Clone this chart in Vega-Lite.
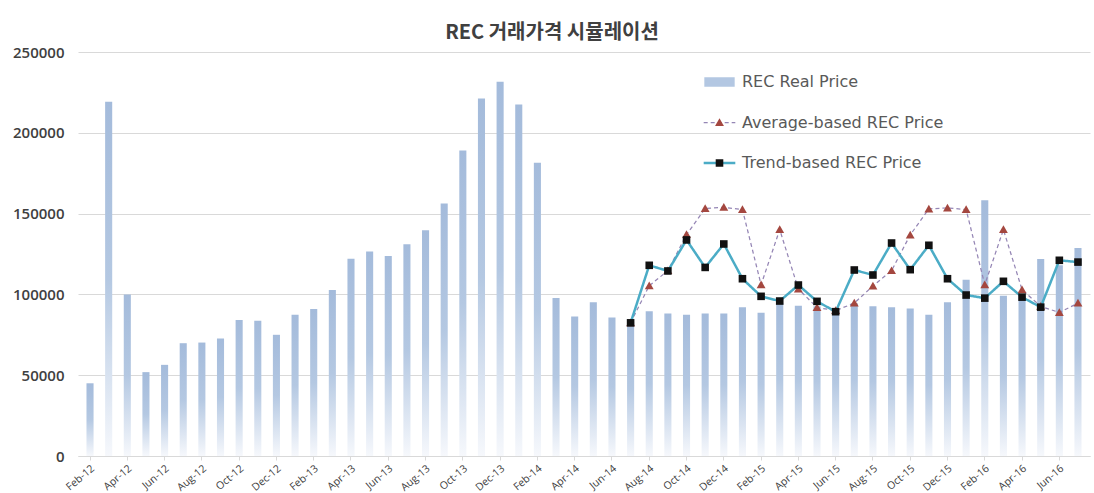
{
  "$schema": "https://vega.github.io/schema/vega-lite/v6.json",
  "autosize": {"type": "none"},
  "width": 1012,
  "height": 404,
  "padding": {"left": 78, "top": 52, "right": 4, "bottom": 37},
  "background": "white",
  "title": {
    "text": "REC 거래가격 시뮬레이션",
    "font": "Noto Sans CJK KR",
    "fontSize": 20,
    "fontWeight": "bold",
    "color": "#404040",
    "anchor": "middle",
    "frame": "group",
    "dx": -32,
    "baseline": "alphabetic",
    "offset": -14
  },
  "config": {
    "view": {"stroke": null},
    "font": "Open Sans"
  },
  "datasets": {
    "bars": [
      {"m": "Feb-12", "v": 45000}, {"m": "Mar-12", "v": 219200}, {"m": "Apr-12", "v": 100000},
      {"m": "May-12", "v": 51900}, {"m": "Jun-12", "v": 56400}, {"m": "Jul-12", "v": 69800},
      {"m": "Aug-12", "v": 70200}, {"m": "Sep-12", "v": 72700}, {"m": "Oct-12", "v": 84100},
      {"m": "Nov-12", "v": 83700}, {"m": "Dec-12", "v": 75000}, {"m": "Jan-13", "v": 87400},
      {"m": "Feb-13", "v": 90900}, {"m": "Mar-13", "v": 102700}, {"m": "Apr-13", "v": 122100},
      {"m": "May-13", "v": 126600}, {"m": "Jun-13", "v": 123800}, {"m": "Jul-13", "v": 131000},
      {"m": "Aug-13", "v": 139700}, {"m": "Sep-13", "v": 156200}, {"m": "Oct-13", "v": 189000},
      {"m": "Nov-13", "v": 221300}, {"m": "Dec-13", "v": 231600}, {"m": "Jan-14", "v": 217500},
      {"m": "Feb-14", "v": 181400}, {"m": "Mar-14", "v": 97700}, {"m": "Apr-14", "v": 86400},
      {"m": "May-14", "v": 95200}, {"m": "Jun-14", "v": 85700}, {"m": "Jul-14", "v": 83000},
      {"m": "Aug-14", "v": 89500}, {"m": "Sep-14", "v": 88200}, {"m": "Oct-14", "v": 87400},
      {"m": "Nov-14", "v": 88200}, {"m": "Dec-14", "v": 88200}, {"m": "Jan-15", "v": 92100},
      {"m": "Feb-15", "v": 88600}, {"m": "Mar-15", "v": 94600}, {"m": "Apr-15", "v": 93000},
      {"m": "May-15", "v": 92600}, {"m": "Jun-15", "v": 91000}, {"m": "Jul-15", "v": 94600},
      {"m": "Aug-15", "v": 92600}, {"m": "Sep-15", "v": 92100}, {"m": "Oct-15", "v": 91300},
      {"m": "Nov-15", "v": 87400}, {"m": "Dec-15", "v": 95200}, {"m": "Jan-16", "v": 109100},
      {"m": "Feb-16", "v": 158300}, {"m": "Mar-16", "v": 99200}, {"m": "Apr-16", "v": 99000},
      {"m": "May-16", "v": 121900}, {"m": "Jun-16", "v": 118000}, {"m": "Jul-16", "v": 128700}
    ],
    "lines": [
      {"m": "Jul-14", "s": "Average-based REC Price", "v": 82400},
      {"m": "Aug-14", "s": "Average-based REC Price", "v": 105400},
      {"m": "Sep-14", "s": "Average-based REC Price", "v": 114700},
      {"m": "Oct-14", "s": "Average-based REC Price", "v": 137000},
      {"m": "Nov-14", "s": "Average-based REC Price", "v": 153100},
      {"m": "Dec-14", "s": "Average-based REC Price", "v": 153900},
      {"m": "Jan-15", "s": "Average-based REC Price", "v": 152500},
      {"m": "Feb-15", "s": "Average-based REC Price", "v": 106000},
      {"m": "Mar-15", "s": "Average-based REC Price", "v": 140100},
      {"m": "Apr-15", "s": "Average-based REC Price", "v": 103300},
      {"m": "May-15", "s": "Average-based REC Price", "v": 91900},
      {"m": "Jun-15", "s": "Average-based REC Price", "v": 90000},
      {"m": "Jul-15", "s": "Average-based REC Price", "v": 94600},
      {"m": "Aug-15", "s": "Average-based REC Price", "v": 105200},
      {"m": "Sep-15", "s": "Average-based REC Price", "v": 114700},
      {"m": "Oct-15", "s": "Average-based REC Price", "v": 136800},
      {"m": "Nov-15", "s": "Average-based REC Price", "v": 152900},
      {"m": "Dec-15", "s": "Average-based REC Price", "v": 153500},
      {"m": "Jan-16", "s": "Average-based REC Price", "v": 152500},
      {"m": "Feb-16", "s": "Average-based REC Price", "v": 106000},
      {"m": "Mar-16", "s": "Average-based REC Price", "v": 140100},
      {"m": "Apr-16", "s": "Average-based REC Price", "v": 102900},
      {"m": "May-16", "s": "Average-based REC Price", "v": 92600},
      {"m": "Jun-16", "s": "Average-based REC Price", "v": 88800},
      {"m": "Jul-16", "s": "Average-based REC Price", "v": 94600},
      {"m": "Jul-14", "s": "Trend-based REC Price", "v": 82400},
      {"m": "Aug-14", "s": "Trend-based REC Price", "v": 118000},
      {"m": "Sep-14", "s": "Trend-based REC Price", "v": 114500},
      {"m": "Oct-14", "s": "Trend-based REC Price", "v": 133700},
      {"m": "Nov-14", "s": "Trend-based REC Price", "v": 116700},
      {"m": "Dec-14", "s": "Trend-based REC Price", "v": 131200},
      {"m": "Jan-15", "s": "Trend-based REC Price", "v": 109700},
      {"m": "Feb-15", "s": "Trend-based REC Price", "v": 98800},
      {"m": "Mar-15", "s": "Trend-based REC Price", "v": 95900},
      {"m": "Apr-15", "s": "Trend-based REC Price", "v": 105800},
      {"m": "May-15", "s": "Trend-based REC Price", "v": 95700},
      {"m": "Jun-15", "s": "Trend-based REC Price", "v": 89300},
      {"m": "Jul-15", "s": "Trend-based REC Price", "v": 115100},
      {"m": "Aug-15", "s": "Trend-based REC Price", "v": 112000},
      {"m": "Sep-15", "s": "Trend-based REC Price", "v": 131800},
      {"m": "Oct-15", "s": "Trend-based REC Price", "v": 115300},
      {"m": "Nov-15", "s": "Trend-based REC Price", "v": 130400},
      {"m": "Dec-15", "s": "Trend-based REC Price", "v": 109700},
      {"m": "Jan-16", "s": "Trend-based REC Price", "v": 99600},
      {"m": "Feb-16", "s": "Trend-based REC Price", "v": 97700},
      {"m": "Mar-16", "s": "Trend-based REC Price", "v": 108100},
      {"m": "Apr-16", "s": "Trend-based REC Price", "v": 98300},
      {"m": "May-16", "s": "Trend-based REC Price", "v": 92100},
      {"m": "Jun-16", "s": "Trend-based REC Price", "v": 121100},
      {"m": "Jul-16", "s": "Trend-based REC Price", "v": 120000}
    ]
  },
  "encoding": {
    "x": {
      "field": "m",
      "type": "ordinal",
      "title": null,
      "scale": {
        "domain": ["Feb-12","Mar-12","Apr-12","May-12","Jun-12","Jul-12","Aug-12","Sep-12","Oct-12","Nov-12","Dec-12","Jan-13","Feb-13","Mar-13","Apr-13","May-13","Jun-13","Jul-13","Aug-13","Sep-13","Oct-13","Nov-13","Dec-13","Jan-14","Feb-14","Mar-14","Apr-14","May-14","Jun-14","Jul-14","Aug-14","Sep-14","Oct-14","Nov-14","Dec-14","Jan-15","Feb-15","Mar-15","Apr-15","May-15","Jun-15","Jul-15","Aug-15","Sep-15","Oct-15","Nov-15","Dec-15","Jan-16","Feb-16","Mar-16","Apr-16","May-16","Jun-16","Jul-16"],
        "paddingInner": 0.62,
        "paddingOuter": 0.455
      },
      "axis": {
        "values": ["Feb-12","Apr-12","Jun-12","Aug-12","Oct-12","Dec-12","Feb-13","Apr-13","Jun-13","Aug-13","Oct-13","Dec-13","Feb-14","Apr-14","Jun-14","Aug-14","Oct-14","Dec-14","Feb-15","Apr-15","Jun-15","Aug-15","Oct-15","Dec-15","Feb-16","Apr-16","Jun-16"],
        "labelAngle": -40,
        "labelFontSize": 10.5,
        "labelColor": "#404040",
        "labelPadding": 3,
        "domainColor": "#d9d9d9",
        "tickColor": "#d9d9d9",
        "tickSize": 4,
        "grid": false
      }
    }
  },
  "layer": [
    {
      "data": {"name": "bars"},
      "mark": {
        "type": "bar",
        "color": {
          "gradient": "linear",
          "x1": 0, "y1": 0, "x2": 0, "y2": 1,
          "stops": [
            {"offset": 0, "color": "#a4bbdb"},
            {"offset": 0.5, "color": "#b4c8e2"},
            {"offset": 1, "color": "#f6f8fc"}
          ]
        }
      },
      "encoding": {
        "y": {
          "field": "v",
          "type": "quantitative",
          "title": null,
          "scale": {"domain": [0, 250000], "nice": false},
          "axis": {
            "values": [0, 50000, 100000, 150000, 200000, 250000],
            "format": "d",
            "domain": false,
            "ticks": false,
            "labelPadding": 14,
            "labelFontSize": 15,
            "labelFontWeight": 600,
            "labelColor": "#404040",
            "gridColor": "#d9d9d9",
            "grid": true
          }
        }
      }
    },
    {
      "data": {"name": "lines"},
      "mark": {"type": "line"},
      "encoding": {
        "y": {"field": "v", "type": "quantitative"},
        "detail": {"field": "s"},
        "stroke": {
          "field": "s",
          "type": "nominal",
          "scale": {
            "domain": ["REC Real Price", "Average-based REC Price", "Trend-based REC Price"],
            "range": ["transparent", "#9586b5", "#4bacc6"]
          },
          "legend": {
            "orient": "none",
            "legendX": 624,
            "legendY": 20,
            "title": null,
            "symbolSize": 1000,
            "symbolStrokeWidth": 2.5,
            "labelFont": "DejaVu Sans",
            "labelFontSize": 16,
            "labelColor": "#595959",
            "labelOffset": 5,
            "labelLimit": 400,
            "clipHeight": 20,
            "rowPadding": 20.5,
            "padding": 0
          }
        },
        "strokeDash": {
          "field": "s",
          "type": "nominal",
          "scale": {
            "domain": ["REC Real Price", "Average-based REC Price", "Trend-based REC Price"],
            "range": [[1, 0], [4, 3], [1, 0]]
          }
        },
        "strokeWidth": {
          "field": "s",
          "type": "nominal",
          "scale": {
            "domain": ["REC Real Price", "Average-based REC Price", "Trend-based REC Price"],
            "range": [0, 2.5, 3.8]
          },
          "legend": null
        },
        "order": {"field": "s", "sort": "ascending"}
      }
    },
    {
      "data": {"name": "lines"},
      "mark": {"type": "point", "filled": true, "opacity": 1, "size": 1000, "strokeWidth": 0},
      "encoding": {
        "y": {"field": "v", "type": "quantitative"},
        "shape": {
          "field": "s",
          "type": "nominal",
          "scale": {
            "domain": ["REC Real Price ", "Average-based REC Price", "Trend-based REC Price"],
            "range": ["M-0.96,-0.3H0.96V0.3H-0.96Z", "M0,-0.27L0.28,0.22L-0.28,0.22Z", "M-0.24,-0.24H0.24V0.24H-0.24Z"]
          },
          "legend": {
            "orient": "none",
            "legendX": 624,
            "legendY": 20,
            "title": null,
            "symbolSize": 1000,
            "symbolStrokeWidth": 2.5,
            "symbolStrokeColor": "transparent",
            "labelFont": "DejaVu Sans",
            "labelFontSize": 16,
            "labelOpacity": 0,
            "labelOffset": 5,
            "labelLimit": 400,
            "clipHeight": 20,
            "rowPadding": 20.5,
            "padding": 0
          }
        },
        "fill": {
          "field": "s",
          "type": "nominal",
          "scale": {
            "domain": ["REC Real Price ", "Average-based REC Price", "Trend-based REC Price"],
            "range": ["#b3c7e2", "#a4473f", "#111111"]
          }
        }
      }
    }
  ]
}
